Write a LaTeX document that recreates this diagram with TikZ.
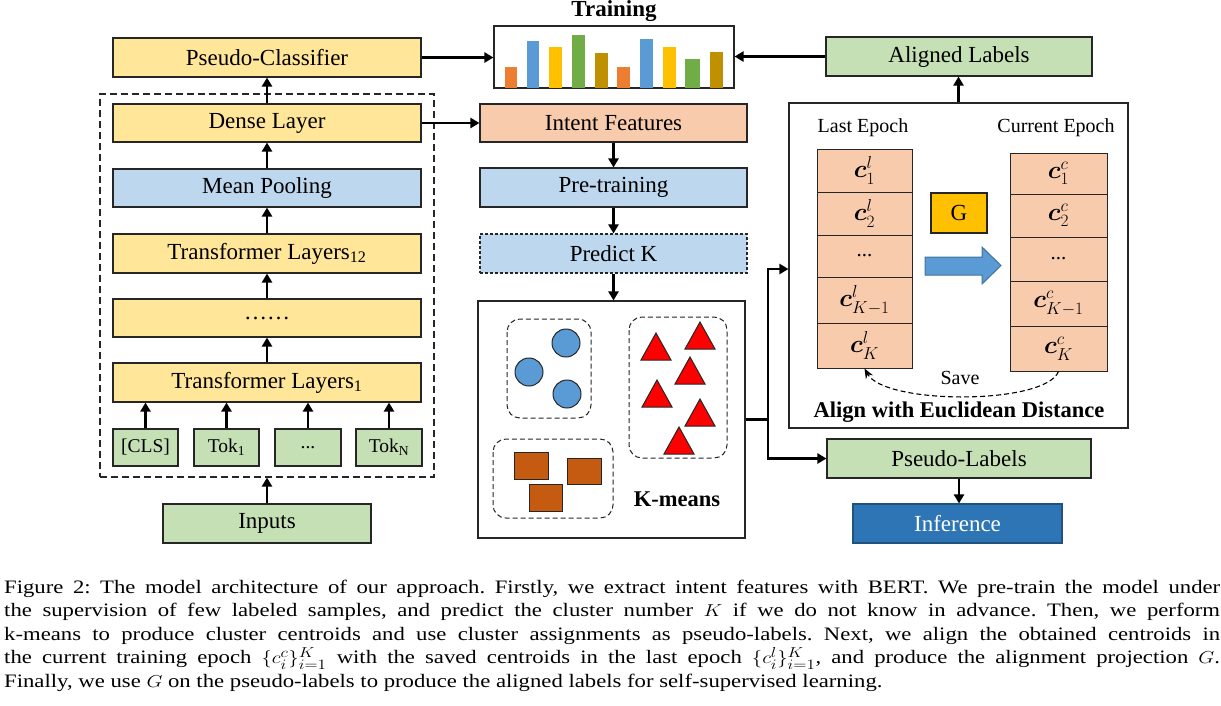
\documentclass[tikz,border=0pt]{standalone}
\usepackage{fontspec}
\setmainfont{Liberation Serif}
\usepackage{amsmath}
\usetikzlibrary{arrows.meta}
\frenchspacing

\definecolor{yel}{HTML}{FFE699}
\definecolor{lblue}{HTML}{BDD7EE}
\definecolor{lgreen}{HTML}{C5E0B4}
\definecolor{peach}{HTML}{F8CBAD}
\definecolor{dblue}{HTML}{2E75B6}
\definecolor{gold}{HTML}{FFC000}
\definecolor{bOrange}{HTML}{ED7D31}
\definecolor{bBlue}{HTML}{5B9BD5}
\definecolor{bYellow}{HTML}{FFC000}
\definecolor{bGreen}{HTML}{70AD47}
\definecolor{bGold}{HTML}{BF9000}
\definecolor{sqc}{HTML}{C55A11}
\definecolor{arrblue}{HTML}{5B9BD5}
\definecolor{arrbd}{HTML}{41719C}

\newcommand{\capln}[1]{\scalebox{1.195}[1]{\makebox[1017.5pt][s]{#1}}}

\tikzset{
 box/.style={draw=black!85, line width=1.1pt, inner sep=0pt, font=\fontsize{23}{25}\selectfont},
 tok/.style={box, fill=lgreen, minimum height=37pt, font=\fontsize{19.5}{21}\selectfont},
 cell/.style={draw=black!85, line width=1pt, fill=peach, inner sep=0pt, minimum width=95pt, font=\fontsize{25}{27}\selectfont},
 ccell/.style={cell, minimum width=97pt},
 arr/.style={line width=2.4pt, -{Triangle[length=9pt,width=10pt]}},
 ln/.style={line width=2.4pt},
 cluster/.style={draw=black!85, line width=1pt, dash pattern=on 5pt off 3pt, rounded corners=13pt},
 capline/.style={anchor=base west, inner sep=0pt, font=\fontsize{19}{23.5}\selectfont},
}

\begin{document}
\begin{tikzpicture}[x=1pt,y=-1pt]
\useasboundingbox (0,0) rectangle (1221,705);

% ---------- left column ----------
\node[box,fill=yel,minimum width=308pt,minimum height=39pt] (pc) at (267,57.5) {Pseudo-Classifier};
\node[draw=black!85, line width=1.2pt, dash pattern=on 7pt off 4pt, minimum width=334pt, minimum height=383pt, inner sep=0pt] (bert) at (267,285.5) {};
\node[box,fill=yel,minimum width=308pt,minimum height=38pt] (dense) at (267,123) {Dense Layer};
\node[box,fill=lblue,minimum width=308pt,minimum height=38pt] (mean) at (267,188) {Mean Pooling};
\node[box,fill=yel,minimum width=308pt,minimum height=39pt] (tl12) at (267,253.5) {Transformer Layers\textsubscript{12}};
\node[box,fill=yel,minimum width=308pt,minimum height=38pt] (tdots) at (267,318) {……};
\node[box,fill=yel,minimum width=308pt,minimum height=39pt] (tl1) at (267,382.5) {Transformer Layers\textsubscript{1}};
\node[tok,minimum width=65pt] (cls) at (145.5,447.5) {[CLS]};
\node[tok,minimum width=65pt] (tok1) at (226.5,447.5) {Tok\textsubscript{1}};
\node[tok,minimum width=66pt] (tokd) at (308,447.5) {...};
\node[tok,minimum width=66pt] (tokn) at (389,447.5) {Tok\textsubscript{N}};
\node[box,fill=lgreen,minimum width=208pt,minimum height=39pt] (inputs) at (267,523.5) {Inputs};

\draw[arr] (dense.north) -- (pc.south);
\draw[arr] (mean.north) -- (dense.south);
\draw[arr] (tl12.north) -- (mean.south);
\draw[arr] (tdots.north) -- (tl12.south);
\draw[arr] (tl1.north) -- (tdots.south);
\draw[arr] (cls.north) -- (cls.north |- tl1.south);
\draw[arr] (tok1.north) -- (tok1.north |- tl1.south);
\draw[arr] (tokd.north) -- (tokd.north |- tl1.south);
\draw[arr] (tokn.north) -- (tokn.north |- tl1.south);
\draw[arr] (inputs.north) -- (inputs.north |- bert.south);

% ---------- training ----------
\node[font=\bfseries\fontsize{23}{25}\selectfont, anchor=base] (ttl) at (614,16.5) {Training};
\node[draw=black!85, line width=1.1pt, minimum width=240pt, minimum height=62pt, inner sep=0pt] (train) at (614,57) {};
\fill[bOrange] (505,67) rectangle (517,88);
\fill[bBlue]   (527,41) rectangle (539,88);
\fill[bYellow] (549,47) rectangle (562,88);
\fill[bGreen]  (572,35) rectangle (585,88);
\fill[bGold]   (595,53) rectangle (608,88);
\fill[bOrange] (617,67) rectangle (630,88);
\fill[bBlue]   (640,39) rectangle (653,88);
\fill[bYellow] (663,47) rectangle (676,88);
\fill[bGreen]  (685,59) rectangle (700,88);
\fill[bGold]   (710,52) rectangle (723,88);
\draw[draw=black!85, line width=1.1pt] (train.south west) -- (train.south east);

\draw[arr] (pc.east) -- (pc.east -| train.west);

% ---------- middle column ----------
\node[box,fill=peach,minimum width=267pt,minimum height=38pt] (intent) at (613.5,123) {Intent Features};
\node[box,fill=lblue,minimum width=267pt,minimum height=39pt] (pre) at (613.5,187.5) {Pre-training};
\node[box,fill=lblue,minimum width=267pt,minimum height=39pt, dash pattern=on 3pt off 2pt] (predk) at (613.5,253.5) {Predict K};
\node[draw=black!85, line width=1.1pt, minimum width=267pt, minimum height=237pt, inner sep=0pt] (km) at (611.5,419.5) {};

\draw[arr] (dense.east) -- (dense.east -| intent.west);
\draw[arr] (intent.south) -- (intent.south |- pre.north);
\draw[arr] (pre.south) -- (pre.south |- predk.north);
\draw[arr] (predk.south) -- (predk.south |- km.north);

% k-means content
\draw[cluster] (507,319) rectangle (591,418);
\draw[cluster] (629,317) rectangle (727,458);
\draw[cluster] (493,439) rectangle (613,518);
\foreach \cx/\cy in {566/343, 529/372, 567/394}
  \draw[fill=bBlue, draw=black!85, line width=1pt] (\cx,\cy) circle (14pt);
\foreach \ax/\ay in {656/333, 700/322, 690/357, 657/380, 700/399, 679/427}
  \draw[fill=red, draw=black!85, line width=1pt] (\ax,\ay) -- (\ax+15,\ay+27) -- (\ax-15,\ay+27) -- cycle;
\draw[fill=sqc, draw=black!85, line width=1pt] (514,452) rectangle (548,479);
\draw[fill=sqc, draw=black!85, line width=1pt] (567,458) rectangle (601,484);
\draw[fill=sqc, draw=black!85, line width=1pt] (529,484) rectangle (562,511);
\node[font=\bfseries\fontsize{22.5}{24}\selectfont] (kml) at (677,499) {K-means};

% ---------- right side ----------
\node[box,fill=lgreen,minimum width=266pt,minimum height=39pt] (aligned) at (959,56.5) {Aligned Labels};
\node[draw=black!85, line width=1.1pt, minimum width=339pt, minimum height=325pt, inner sep=0pt] (al) at (958.5,265.5) {};
\node[box,fill=lgreen,minimum width=264pt,minimum height=39pt] (pl) at (959,458.5) {Pseudo-Labels};
\node[box,fill=dblue,draw=dblue!70!black,text=white,minimum width=209pt,minimum height=39pt] (inf) at (957.5,523.5) {Inference};

\draw[arr] (aligned.west) -- (aligned.west -| train.east);
\draw[arr] (al.north) -- (al.north |- aligned.south);
\draw[arr] (pl.south) -- (pl.south |- inf.north);

\coordinate (j) at (768,419.5);
\draw[ln] (km.east) -- (j);
\draw[arr] (j) |- ([yshift=-3.5pt]al.west);
\draw[arr] (j) |- (pl.west);

\node[font=\fontsize{20}{22}\selectfont] (le) at (863,128) {Last Epoch};
\node[font=\fontsize{20}{22}\selectfont] (ce) at (1056,128) {Current Epoch};

\node[cell, minimum height=43pt] (l1) at (864.5,170.5) {$\boldsymbol{c}_1^{l}$};
\node[cell, minimum height=43pt] (l2) at (864.5,213.5) {$\boldsymbol{c}_2^{l}$};
\node[cell, minimum height=42pt, font=\fontsize{21}{23}\selectfont] (l3) at (864.5,256) {...};
\node[cell, minimum height=46pt] (l4) at (864.5,300) {$\boldsymbol{c}_{K-1}^{l}$};
\node[cell, minimum height=45pt] (l5) at (864.5,345.5) {$\boldsymbol{c}_K^{l}$};

\node[ccell, minimum height=41pt] (c1) at (1058.5,173.5) {$\boldsymbol{c}_1^{c}$};
\node[ccell, minimum height=43pt] (c2) at (1058.5,215.5) {$\boldsymbol{c}_2^{c}$};
\node[ccell, minimum height=44pt, font=\fontsize{21}{23}\selectfont] (c3) at (1058.5,259) {...};
\node[ccell, minimum height=45pt] (c4) at (1058.5,303.5) {$\boldsymbol{c}_{K-1}^{c}$};
\node[ccell, minimum height=45pt] (c5) at (1058.5,348.5) {$\boldsymbol{c}_K^{c}$};

\node[box, fill=gold, minimum width=56pt, minimum height=40pt] (g) at (959,213) {G};
\draw[fill=arrblue, draw=arrbd, line width=1pt] (925,257) -- (982,257) -- (982,247) -- (1001,265.5) -- (982,284) -- (982,275) -- (925,275) -- cycle;

\draw[line width=1.1pt, dash pattern=on 5pt off 3pt, -{Stealth[length=10pt,width=8pt]}] (c5.south) .. controls (1045,405) and (885,405) .. (l5.south);
\node[font=\fontsize{20}{22}\selectfont] (save) at (960,378) {Save};
\node[font=\bfseries\fontsize{22.5}{24}\selectfont] (alt) at (959,412) {Align with Euclidean Distance};

% ---------- caption ----------
\node[capline] (cap1) at (4,593) {\capln{Figure 2: The model architecture of our approach. Firstly, we extract intent features with BERT. We pre-train the model under}};
\node[capline] (cap2) at (4,616.5) {\capln{the supervision of few labeled samples, and predict the cluster number $K$ if we do not know in advance. Then, we perform}};
\node[capline] (cap3) at (4,640) {\capln{k-means to produce cluster centroids and use cluster assignments as pseudo-labels. Next, we align the obtained centroids in}};
\node[capline] (cap4) at (4,663.5) {\capln{the current training epoch $\{c_i^c\}_{i=1}^K$ with the saved centroids in the last epoch $\{c_i^l\}_{i=1}^K$, and produce the alignment projection $G$.}};
\node[capline] (cap5) at (4,687) {\scalebox{1.195}[1]{Finally, we use $G$ on the pseudo-labels to produce the aligned labels for self-supervised learning.}};
\end{tikzpicture}
\end{document}
